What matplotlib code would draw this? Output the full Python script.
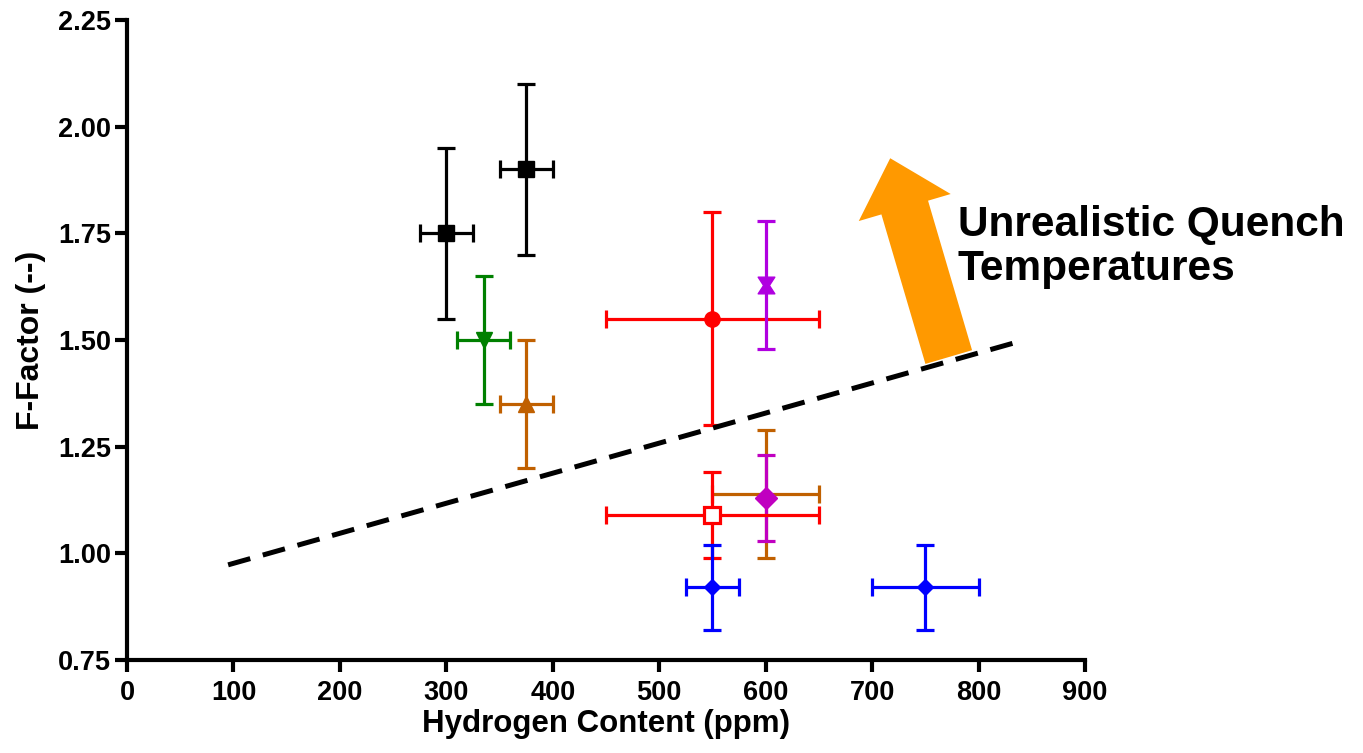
import matplotlib
matplotlib.use("Agg")
import matplotlib.pyplot as plt
from matplotlib.path import Path

plt.rcParams["font.family"] = ["Liberation Sans", "DejaVu Sans"]
plt.rcParams["font.weight"] = "bold"

# data points: (x, y, xerr, yerr)
black_x = [300, 375]
black_y = [1.75, 1.90]
black_xerr = [25, 25]
black_yerr = [0.20, 0.20]

green_x = [335]
green_y = [1.50]
green_xerr = [25]
green_yerr = [0.15]

orange_x = [375, 600]
orange_y = [1.35, 1.14]
orange_xerr = [25, 50]
orange_yerr = [0.15, 0.15]

red_x = [550]
red_y = [1.55]
red_xerr = [100]
red_yerr = [0.25]

red_open_x = [550]
red_open_y = [1.09]
red_open_xerr = [100]
red_open_yerr = [0.10]

violet_x = [600]
violet_y = [1.63]
violet_yerr = [0.15]

magenta_x = [600]
magenta_y = [1.13]
magenta_yerr = [0.10]

blue_x = [550, 750]
blue_y = [0.92, 0.92]
blue_xerr = [25, 50]
blue_yerr = [0.10, 0.10]

# threshold line and arrow
line_x = [95, 836]
line_y = [0.973, 1.495]
arrow_base = (772, 1.46)
arrow_tip = (717, 1.926)

fig = plt.figure(figsize=(13.63, 7.53), dpi=100)
ax = fig.add_axes([127 / 1363, 93 / 753, 958 / 1363, 640 / 753])

eb = dict(elinewidth=2.3, capsize=6.5, capthick=2.3, linestyle="none")

ax.errorbar(black_x, black_y, xerr=black_xerr, yerr=black_yerr, color="black",
            marker="s", markersize=11, **eb)
ax.errorbar(green_x, green_y, xerr=green_xerr, yerr=green_yerr, color="#008000",
            marker="v", markersize=11, **eb)
ax.errorbar(orange_x[:1], orange_y[:1], xerr=orange_xerr[:1], yerr=orange_yerr[:1],
            color="#C06000", marker="^", markersize=11, **eb)
ax.errorbar(red_x, red_y, xerr=red_xerr, yerr=red_yerr, color="#FF0000",
            marker="o", markersize=11, **eb)

hourglass = Path([(-1, 1), (1, 1), (0.35, 0), (1, -1), (-1, -1), (-0.35, 0), (-1, 1)],
                 [Path.MOVETO] + [Path.LINETO] * 5 + [Path.CLOSEPOLY])
ax.errorbar(violet_x, violet_y, yerr=violet_yerr, color="#B000E0",
            marker=hourglass, markersize=12, **eb)

ax.errorbar(orange_x[1:], orange_y[1:], xerr=orange_xerr[1:], yerr=orange_yerr[1:],
            color="#C06000", marker="none", **eb)
ax.errorbar(magenta_x, magenta_y, yerr=magenta_yerr, color="#C000C0",
            marker="D", markersize=11, **eb)
ax.plot(orange_x[1:], orange_y[1:], "o", color="#C06000", markerfacecolor="none",
        markersize=5, markeredgewidth=1.5)
ax.errorbar(red_open_x, red_open_y, xerr=red_open_xerr, yerr=red_open_yerr,
            color="#FF0000", marker="s", markersize=12, markerfacecolor="white",
            markeredgewidth=2.3, **eb)
ax.errorbar(blue_x, blue_y, xerr=blue_xerr, yerr=blue_yerr, color="#0000FF",
            marker="D", markersize=8, **eb)

ax.plot(line_x, line_y, color="black", linewidth=3.6, dashes=(4.6, 2.6))

ax.annotate("", xy=arrow_tip, xytext=arrow_base,
            arrowprops=dict(arrowstyle="simple,head_length=37,head_width=69,tail_width=35",
                            mutation_scale=1, color="#FF9900", shrinkA=0, shrinkB=0,
                            linewidth=0))

fig.text(958 / 1363, (753 - 247) / 753, "Unrealistic Quench\nTemperatures",
         fontsize=30.5, fontweight="bold", ha="left", va="center", linespacing=1.15)

ax.set_xlim(0, 900)
ax.set_ylim(0.75, 2.25)
ax.set_xticks(range(0, 901, 100))
ax.set_yticks([0.75, 1.00, 1.25, 1.50, 1.75, 2.00, 2.25])
ax.set_yticklabels(["0.75", "1.00", "1.25", "1.50", "1.75", "2.00", "2.25"])
for s in ["top", "right"]:
    ax.spines[s].set_visible(False)
for s in ["left", "bottom"]:
    ax.spines[s].set_linewidth(3)
ax.tick_params(width=3, length=8.5, labelsize=19.5)
ax.tick_params(axis="x", pad=6)
ax.tick_params(axis="y", pad=3)
for lab in ax.get_xticklabels() + ax.get_yticklabels():
    lab.set_fontweight("bold")

ax.set_xlabel("Hydrogen Content (ppm)", fontsize=22.5, fontweight="bold", labelpad=2)
ax.set_ylabel("F-Factor (--)", fontsize=23, fontweight="bold", labelpad=9)

fig.savefig("out.png", dpi=100)
